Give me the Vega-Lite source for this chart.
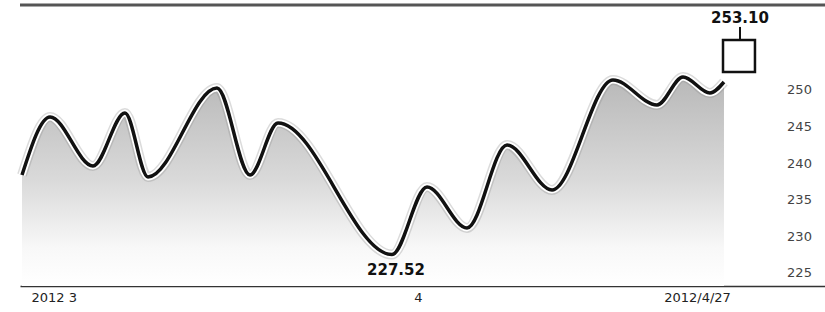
{
  "$schema": "https://vega.github.io/schema/vega-lite/v6.json",
  "autosize": {"type": "none"},
  "padding": {"left": 20, "top": 5, "right": 0, "bottom": 26},
  "width": 805,
  "height": 281,
  "background": "white",
  "config": {"view": {"stroke": null}, "font": "DejaVu Sans"},
  "datasets": {
    "curve": [
      {"i": 0.25, "v": 238.39},
      {"i": 3.73, "v": 246.31},
      {"i": 9.07, "v": 239.62},
      {"i": 13.04, "v": 246.86},
      {"i": 15.90, "v": 238.11},
      {"i": 24.47, "v": 250.27},
      {"i": 28.57, "v": 238.39},
      {"i": 32.05, "v": 245.49},
      {"i": 46.21, "v": 227.52},
      {"i": 50.56, "v": 236.75},
      {"i": 55.53, "v": 231.15},
      {"i": 60.50, "v": 242.49},
      {"i": 66.09, "v": 236.34},
      {"i": 73.66, "v": 251.37},
      {"i": 79.13, "v": 247.95},
      {"i": 82.36, "v": 251.78},
      {"i": 85.71, "v": 249.59},
      {"i": 87.45, "v": 251.09}
    ],
    "candle": [
      {"i": 89.44, "i0": 87.33, "i1": 91.30, "low": 252.46, "top": 256.83, "high": 258.61, "label": "253.10"}
    ],
    "low": [
      {"i": 46.21, "v": 227.52, "label": "227.52"}
    ],
    "frame": [
      {"v": 261.61}
    ]
  },
  "layer": [
    {
      "data": {"name": "curve"},
      "mark": {
        "type": "area",
        "interpolate": "monotone",
        "color": {
          "gradient": "linear", "x1": 0, "y1": 0, "x2": 0, "y2": 1,
          "stops": [
            {"offset": 0, "color": "#b8b8b8"},
            {"offset": 0.5, "color": "#dadada"},
            {"offset": 0.82, "color": "#f8f8f8"},
            {"offset": 1, "color": "#ffffff"}
          ]
        }
      },
      "encoding": {
        "x": {"field": "i", "type": "quantitative", "scale": {"domain": [0, 100], "nice": false, "zero": false},
          "axis": {"orient": "bottom", "values": [4.2, 49.44, 84.1], "labelExpr": "datum.value < 20 ? '2012 3' : (datum.value < 60 ? '4' : '2012/4/27')",
            "domain": true, "domainColor": "#333", "domainWidth": 1.5, "ticks": false, "grid": false, "title": null,
            "labelFontSize": 13, "labelColor": "#222", "labelPadding": 5, "labelFlush": false, "labelOverlap": false}},
        "y": {"field": "v", "type": "quantitative", "scale": {"domain": [223.22, 261.61], "nice": false, "zero": false},
          "axis": {"orient": "right", "values": [225, 230, 235, 240, 245, 250], "domain": false, "ticks": false, "grid": false, "title": null,
            "labelFontSize": 13, "labelColor": "#444", "labelAlign": "center", "labelPadding": -26}},
        "y2": {"datum": 223.22}
      }
    },
    {
      "data": {"name": "curve"},
      "mark": {"type": "line", "interpolate": "monotone", "color": "#888", "strokeWidth": 10, "opacity": 0.3},
      "encoding": {"x": {"field": "i", "type": "quantitative"}, "y": {"field": "v", "type": "quantitative"}}
    },
    {
      "data": {"name": "curve"},
      "mark": {"type": "line", "interpolate": "monotone", "color": "#ffffff", "strokeWidth": 7},
      "encoding": {"x": {"field": "i", "type": "quantitative"}, "y": {"field": "v", "type": "quantitative"}}
    },
    {
      "data": {"name": "curve"},
      "mark": {"type": "line", "interpolate": "monotone", "color": "#111", "strokeWidth": 3.5},
      "encoding": {"x": {"field": "i", "type": "quantitative"}, "y": {"field": "v", "type": "quantitative"}}
    },
    {
      "data": {"name": "candle"},
      "mark": {"type": "rule", "color": "#111", "strokeWidth": 2},
      "encoding": {"x": {"field": "i", "type": "quantitative"}, "y": {"field": "top", "type": "quantitative"}, "y2": {"field": "high"}}
    },
    {
      "data": {"name": "candle"},
      "mark": {"type": "rect", "fill": "white", "stroke": "#111", "strokeWidth": 2.5},
      "encoding": {"x": {"field": "i0", "type": "quantitative"}, "x2": {"field": "i1"}, "y": {"field": "low", "type": "quantitative"}, "y2": {"field": "top"}}
    },
    {
      "data": {"name": "candle"},
      "mark": {"type": "text", "fontWeight": "bold", "fontSize": 15, "color": "#111", "dy": -9},
      "encoding": {"x": {"field": "i", "type": "quantitative"}, "y": {"field": "high", "type": "quantitative"}, "text": {"field": "label"}}
    },
    {
      "data": {"name": "low"},
      "mark": {"type": "text", "fontWeight": "bold", "fontSize": 15, "color": "#111", "dy": 15, "dx": 4},
      "encoding": {"x": {"field": "i", "type": "quantitative"}, "y": {"field": "v", "type": "quantitative"}, "text": {"field": "label"}}
    },
    {
      "data": {"name": "frame"},
      "mark": {"type": "rule", "color": "#555", "strokeWidth": 3},
      "encoding": {"y": {"field": "v", "type": "quantitative"}}
    }
  ]
}
